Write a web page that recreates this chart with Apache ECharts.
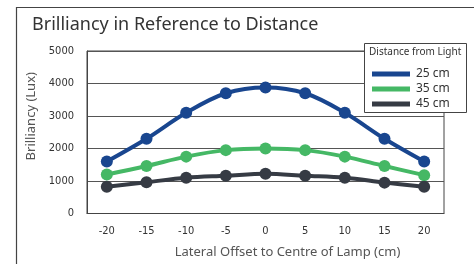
<!DOCTYPE html>
<html>
<head>
<meta charset="utf-8">
<script src="https://cdn.jsdelivr.net/npm/echarts@6/dist/echarts.min.js"></script>
<style>
  html, body { margin: 0; padding: 0; background: #fff; }
  #chart { width: 474px; height: 264px; }
</style>
</head>
<body>
<div id="chart"></div>
<script>
// lateral offsets (cm)
var offsets = ['-20', '-15', '-10', '-5', '0', '5', '10', '15', '20']
var seriesNames = ['25 cm', '35 cm', '45 cm']
var lux25 = [1600, 2300, 3100, 3700, 3880, 3700, 3100, 2300, 1600]
var lux35 = [1200, 1460, 1750, 1950, 2000, 1950, 1750, 1460, 1180]
var lux45 = [820, 960, 1100, 1160, 1220, 1160, 1100, 950, 820]
var colors = ['#19468f', '#45b865', '#363b44']

var narrow = '"Liberation Sans Narrow", "DejaVu Sans Condensed", sans-serif'

var chart = echarts.init(document.getElementById('chart'))

function line(name, data, color) {
    return {
        name: name,
        type: 'line',
        data: data,
        smooth: 0.35,
        symbol: 'circle',
        symbolSize: 12,
        lineStyle: { width: 4, color: color },
        itemStyle: { color: color },
        emphasis: { disabled: true }
    }
}

chart.setOption({
    animation: false,
    color: colors,
    title: {
        text: 'Brilliancy in Reference to Distance',
        left: 27, top: 11,
        textStyle: { fontFamily: 'Noto Sans', fontWeight: 'normal', fontSize: 18, color: '#333' }
    },
    graphic: [
        // outer frame (runs off right and bottom)
        { type: 'rect', shape: { x: 16.5, y: 7.5, width: 500, height: 300 },
          style: { fill: 'none', stroke: '#444', lineWidth: 1.2 }, z: -1 },
        // legend box
        { type: 'rect', shape: { x: 364.5, y: 43.5, width: 102, height: 69 },
          style: { fill: '#fff', stroke: '#444', lineWidth: 1 }, z: 10 },
        { type: 'text', left: 369, top: 47, z: 11,
          style: { text: 'Distance from Light', fill: '#333', fontSize: 10, fontFamily: 'Noto Sans' } }
    ],
    legend: {
        data: seriesNames,
        orient: 'vertical',
        left: 367, top: 63,
        itemWidth: 38, itemHeight: 5,
        itemGap: 3,
        icon: 'rect',
        z: 12,
        textStyle: { fontSize: 12, color: '#333', fontFamily: 'Noto Sans', padding: [0, 0, 0, 1] }
    },
    grid: { left: 87, right: 30, top: 51, bottom: 50.5, show: true, borderColor: '#444', borderWidth: 1 },
    xAxis: {
        type: 'category',
        data: offsets,
        boundaryGap: true,
        axisTick: { show: false },
        axisLine: { lineStyle: { color: '#444' } },
        axisLabel: { margin: 12, fontSize: 11, color: '#333', fontFamily: narrow },
        name: 'Lateral Offset to Centre of Lamp (cm)',
        nameLocation: 'middle',
        nameGap: 32,
        nameTextStyle: { fontSize: 13, color: '#555', fontFamily: 'Noto Sans', padding: [0, 0, 0, 44] }
    },
    yAxis: {
        type: 'value',
        min: 0, max: 5000, interval: 1000,
        axisLine: { show: true, lineStyle: { color: '#444' } },
        axisTick: { show: false },
        splitLine: { lineStyle: { color: '#555' } },
        axisLabel: { margin: 13, fontSize: 11, color: '#333', fontFamily: narrow, formatter: function (v) { return String(v) } },
        name: 'Brilliancy (Lux)',
        nameLocation: 'middle',
        nameGap: 43,
        nameTextStyle: { fontSize: 13, color: '#555', fontFamily: 'Noto Sans', padding: [0, 0, 0, 32] }
    },
    series: [
        line(seriesNames[0], lux25, colors[0]),
        line(seriesNames[1], lux35, colors[1]),
        line(seriesNames[2], lux45, colors[2])
    ]
})
</script>
</body>
</html>
